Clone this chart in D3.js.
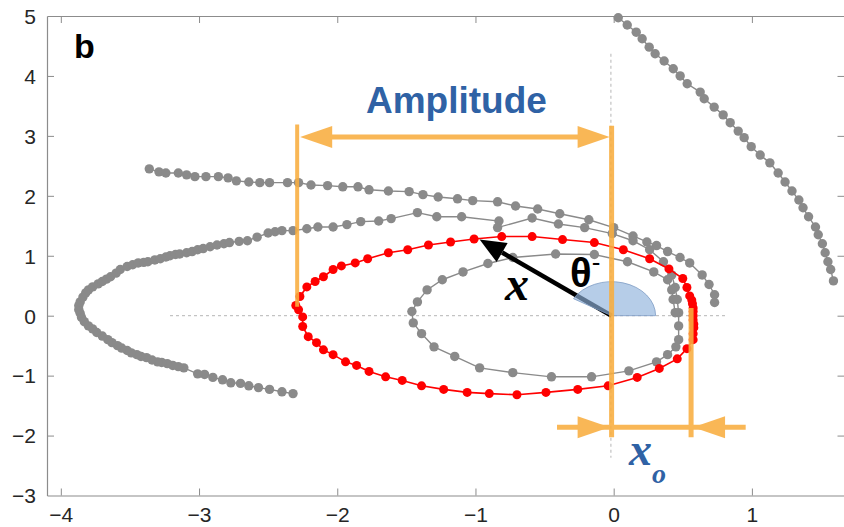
<!DOCTYPE html>
<html><head><meta charset="utf-8">
<script src="https://cdn.jsdelivr.net/npm/d3@7"></script>
<style>html,body{margin:0;padding:0;background:#fff;}svg{display:block;}</style>
</head><body>
<svg id="chart" width="844" height="527"></svg>
<script>
// ---- data ----
const xTicks = [-4, -3, -2, -1, 0, 1];
const yTicks = [-3, -2, -1, 0, 1, 2, 3, 4, 5];

// gray trajectory leaving the top of the frame (upper right)
const topRightArc = [
 [0.033,4.97],[0.098,4.85],[0.163,4.73],[0.206,4.62],[0.257,4.48],[0.300,4.37],[0.365,4.25],
 [0.431,4.12],[0.481,4.00],[0.532,3.87],[0.626,3.73],[0.655,3.62],[0.727,3.48],[0.792,3.35],
 [0.843,3.22],[0.901,3.08],[0.944,2.97],[0.995,2.82],[1.06,2.68],[1.13,2.55],[1.19,2.38],
 [1.24,2.23],[1.29,2.08],[1.34,1.93],[1.37,1.80],[1.41,1.65],[1.46,1.48],[1.48,1.35],
 [1.51,1.20],[1.53,1.05],[1.55,0.90],[1.57,0.77],[1.59,0.58]
];

// gray outer upper arc
const outerArc = [
 [-3.36,2.45],[-3.29,2.40],[-3.24,2.38],[-3.15,2.38],[-3.09,2.35],[-3.03,2.32],[-2.95,2.32],
 [-2.86,2.32],[-2.79,2.30],[-2.73,2.25],[-2.64,2.23],[-2.56,2.22],[-2.49,2.22],[-2.36,2.22],
 [-2.28,2.22],[-2.19,2.18],[-2.07,2.17],[-1.96,2.15],[-1.85,2.15],[-1.77,2.10],[-1.63,2.08],
 [-1.48,2.07],[-1.38,2.02],[-1.27,1.98],[-1.13,1.95],[-1.02,1.92],[-0.84,1.90],[-0.71,1.83],
 [-0.55,1.78],[-0.39,1.70],[-0.18,1.60],[0.00,1.47],[0.14,1.33],[0.24,1.23],[0.31,1.17],
 [0.39,1.07],[0.48,0.97],[0.55,0.88],[0.64,0.68],[0.69,0.52],[0.73,0.35],[0.73,0.22]
];

// gray spiral: lower-left arm, left nose, middle arc, inner loop
const spiralTrack = [
 [-2.32,-1.30],[-2.40,-1.27],[-2.49,-1.23],[-2.57,-1.20],[-2.64,-1.17],[-2.70,-1.13],[-2.77,-1.12],
 [-2.83,-1.07],[-2.90,-1.03],[-2.96,-0.98],[-3.01,-0.97],[-3.11,-0.87],[-3.15,-0.85],[-3.19,-0.83],
 [-3.23,-0.80],[-3.27,-0.78],[-3.30,-0.77],[-3.34,-0.74],[-3.38,-0.70],[-3.42,-0.68],[-3.45,-0.65],
 [-3.49,-0.62],[-3.52,-0.58],[-3.56,-0.54],[-3.59,-0.50],[-3.63,-0.45],[-3.66,-0.40],[-3.70,-0.34],
 [-3.74,-0.28],[-3.77,-0.22],[-3.80,-0.17],[-3.83,-0.10],[-3.85,-0.03],[-3.86,0.04],[-3.87,0.10],
 [-3.87,0.17],[-3.86,0.23],[-3.84,0.31],[-3.82,0.38],[-3.80,0.43],[-3.77,0.48],[-3.73,0.53],
 [-3.70,0.57],[-3.67,0.61],[-3.64,0.65],[-3.60,0.71],[-3.57,0.77],[-3.52,0.82],[-3.48,0.85],
 [-3.44,0.88],[-3.40,0.89],[-3.37,0.90],[-3.32,0.93],[-3.28,0.95],[-3.24,0.98],[-3.21,1.00],
 [-3.17,1.02],[-3.14,1.03],[-3.09,1.05],[-3.05,1.07],[-3.01,1.10],[-2.97,1.12],[-2.92,1.15],
 [-2.87,1.18],[-2.82,1.20],[-2.78,1.22],[-2.71,1.24],[-2.65,1.25],[-2.58,1.31],[-2.50,1.38],
 [-2.45,1.40],[-2.40,1.42],[-2.32,1.42],[-2.22,1.45],[-2.14,1.48],[-2.03,1.48],[-1.93,1.52],
 [-1.83,1.57],[-1.70,1.58],[-1.61,1.62],[-1.42,1.72],[-1.28,1.65],[-1.10,1.65],[-0.83,1.58],
 [-0.84,1.47],[-0.59,1.63],[-0.40,1.53],[-0.21,1.47],[-0.01,1.37],[0.14,1.25],[0.26,1.10],
 [0.36,0.90],[0.42,0.68],[0.445,0.47],[0.46,0.27],[0.47,0.05],[0.47,-0.17],[0.47,-0.40],
 [0.45,-0.52],[0.39,-0.65],[0.31,-0.77],[0.11,-0.92],[-0.16,-1.02],[-0.45,-1.02],[-0.73,-0.95],
 [-0.97,-0.87],[-1.15,-0.68],[-1.30,-0.52],[-1.39,-0.30],[-1.45,-0.12],[-1.46,0.07],[-1.42,0.23],
 [-1.35,0.43],[-1.24,0.60],[-1.09,0.73],[-0.91,0.87],[-0.73,0.97],[-0.42,1.03],[-0.14,1.02],
 [0.10,0.90],[0.29,0.73],[0.39,0.60],[0.42,0.43],[0.43,0.27],[0.445,0.05]
];

// red limit-cycle orbit
const redOrbit = [
 [-2.30,0.17],[-2.27,0.32],[-2.22,0.48],[-2.16,0.57],[-2.10,0.65],[-2.03,0.77],[-1.97,0.83],
 [-1.87,0.88],[-1.78,0.95],[-1.63,1.05],[-1.49,1.10],[-1.34,1.18],[-1.18,1.23],[-1.01,1.28],
 [-0.81,1.32],[-0.59,1.32],[-0.37,1.27],[-0.14,1.22],[0.07,1.10],[0.26,0.95],[0.40,0.78],
 [0.50,0.62],[0.53,0.47],[0.55,0.33],[0.565,0.26],[0.57,0.20],[0.575,0.13],[0.575,0.07],
 [0.575,0.00],[0.575,-0.07],[0.58,-0.14],[0.58,-0.20],[0.575,-0.30],[0.575,-0.40],[0.53,-0.55],
 [0.46,-0.72],[0.33,-0.88],[0.17,-1.03],[-0.04,-1.17],[-0.26,-1.23],[-0.49,-1.28],[-0.70,-1.32],
 [-0.90,-1.30],[-1.06,-1.28],[-1.23,-1.23],[-1.39,-1.17],[-1.53,-1.08],[-1.65,-1.02],[-1.77,-0.93],
 [-1.86,-0.83],[-1.94,-0.77],[-2.03,-0.65],[-2.10,-0.57],[-2.15,-0.45],[-2.21,-0.35],[-2.25,-0.18],
 [-2.25,-0.02],[-2.28,0.10]
];

// annotation values (data units)
const ampLeft = -2.29, ampRight = -0.015, xoRight = 0.56;
const ampY = 2.98, xoY = -1.86;
const vecTip = [-0.97, 1.27];
const thetaAngle = 150; // degrees

// ---- chart ----
const svg = d3.select("#chart");
const x = d3.scaleLinear().domain([-4.1, 1.67]).range([47, 844.5]);
const y = d3.scaleLinear().domain([-3, 5]).range([495.5, 16]);

const GRAY = "#8a8a8a", RED = "#ff0000", ORANGE = "#f9ae3f", BLUE = "#2f62a5";

// axes (box with inward ticks)
const axisColor = "#8c8c8c";
const gB = svg.append("g").attr("transform", `translate(0,${y(-3)})`)
  .call(d3.axisBottom(x).tickValues(xTicks).tickSizeInner(-7).tickSizeOuter(0).tickPadding(12).tickFormat(d3.format("d")));
const gT = svg.append("g").attr("transform", `translate(0,${y(5)})`)
  .call(d3.axisTop(x).tickValues(xTicks).tickSizeInner(-7).tickSizeOuter(0).tickFormat(""));
const gL = svg.append("g").attr("transform", `translate(${x(-4.1)},0)`)
  .call(d3.axisLeft(y).tickValues(yTicks).tickSizeInner(-7).tickSizeOuter(0).tickPadding(11).tickFormat(d3.format("d")));
const gR = svg.append("g").attr("transform", `translate(${x(1.67)},0)`)
  .call(d3.axisRight(y).tickValues(yTicks).tickSizeInner(-7).tickSizeOuter(0).tickFormat(""));
[gB, gT, gL, gR].forEach(g => {
  g.selectAll("path.domain").attr("stroke", axisColor).attr("stroke-width", 1.2);
  g.selectAll(".tick line").attr("stroke", axisColor).attr("stroke-width", 1);
  g.selectAll(".tick text").attr("fill", "#262626").attr("font-size", 21)
    .attr("font-family", "'Liberation Sans', Arial, sans-serif");
});
gB.selectAll(".tick text").attr("dy", "0.71em");
gL.selectAll(".tick text").attr("dy", "0.35em");
gL.selectAll(".tick").filter(d => d === 5 || d === -3).select("line").remove();
gR.selectAll(".tick").filter(d => d === 5 || d === -3).select("line").remove();

// dotted reference lines
svg.append("line").attr("x1", x(-3.21)).attr("x2", x(0.82)).attr("y1", y(0)).attr("y2", y(0))
  .attr("stroke", "#b5b5b5").attr("stroke-width", 1).attr("stroke-dasharray", "3,3");
svg.append("line").attr("x1", x(-0.02)).attr("x2", x(-0.02)).attr("y1", y(4.37)).attr("y2", y(-2.37))
  .attr("stroke", "#b5b5b5").attr("stroke-width", 1).attr("stroke-dasharray", "3,3");

const line = d3.line().x(d => x(d[0])).y(d => y(d[1]));

function drawTrack(data, color, lw, r) {
  svg.append("path").datum(data).attr("d", line).attr("fill", "none")
    .attr("stroke", color).attr("stroke-width", lw);
  svg.append("g").selectAll("circle").data(data).join("circle")
    .attr("cx", d => x(d[0])).attr("cy", d => y(d[1])).attr("r", r).attr("fill", color);
}
drawTrack(topRightArc, GRAY, 1.4, 4.7);
drawTrack(outerArc, GRAY, 1.4, 4.7);
drawTrack(spiralTrack, GRAY, 1.4, 4.7);
drawTrack(redOrbit, RED, 1.6, 4.5);

// black vector arrow
const ox = x(-0.015), oy = y(0);
const tx = x(vecTip[0]), ty = y(vecTip[1]);
const ang = Math.atan2(ty - oy, tx - ox);
const headLen = 26, headHalf = 11;
const bx = tx - headLen * Math.cos(ang), by = ty - headLen * Math.sin(ang);
svg.append("line").attr("x1", ox).attr("y1", oy).attr("x2", bx).attr("y2", by)
  .attr("stroke", "#000").attr("stroke-width", 4.5);
svg.append("path").attr("d", `M${tx},${ty}L${bx - headHalf * Math.sin(ang)},${by + headHalf * Math.cos(ang)}L${bx + headHalf * Math.sin(ang)},${by - headHalf * Math.cos(ang)}Z`)
  .attr("fill", "#000");

// angle wedge (elliptical sector)
const rx = 44, ry = 34;
const a1 = thetaAngle * Math.PI / 180;
svg.append("path")
  .attr("d", `M${ox},${oy}L${ox + rx},${oy}A${rx},${ry} 0 0 0 ${ox + rx * Math.cos(a1)},${oy - ry * Math.sin(a1)}Z`)
  .attr("fill", "#8fb2dc").attr("fill-opacity", 0.65).attr("stroke", "#7d9cc4").attr("stroke-width", 0.8);

// orange annotation
const og = svg.append("g").attr("opacity", 0.88);
function vline(xv, y1, y2, w) {
  og.append("line").attr("x1", x(xv)).attr("x2", x(xv)).attr("y1", y(y1)).attr("y2", y(y2))
    .attr("stroke", ORANGE).attr("stroke-width", w);
}
function head(tipX, tipY, dir) {
  const L = 32, H = 11;
  og.append("path").attr("d", `M${tipX},${tipY}L${tipX - dir * L},${tipY - H}L${tipX - dir * L},${tipY + H}Z`)
    .attr("fill", ORANGE);
}
vline(ampLeft, 3.19, 0.15, 4);
vline(ampRight, 3.17, -2.03, 5);
vline(xoRight, 0.13, -2.03, 5);
og.append("line").attr("x1", x(ampLeft) + 28).attr("x2", x(ampRight) - 28).attr("y1", y(ampY)).attr("y2", y(ampY))
  .attr("stroke", ORANGE).attr("stroke-width", 5);
head(x(ampLeft) + 3, y(ampY), -1);
head(x(ampRight) - 2, y(ampY), 1);
og.append("line").attr("x1", x(-0.41)).attr("x2", x(0.955)).attr("y1", y(xoY)).attr("y2", y(xoY))
  .attr("stroke", ORANGE).attr("stroke-width", 5);
head(x(ampRight) - 2, y(xoY), 1);
head(x(xoRight) + 2, y(xoY), -1);

// texts
svg.append("text").attr("x", 74).attr("y", 58).text("b")
  .attr("font-family", "'Liberation Sans', Arial, sans-serif").attr("font-weight", "bold").attr("font-size", 34);
svg.append("text").attr("x", (x(ampLeft) + x(ampRight)) / 2 + 2).attr("y", 113).attr("text-anchor", "middle")
  .text("Amplitude").attr("fill", BLUE)
  .attr("font-family", "'Liberation Sans', Arial, sans-serif").attr("font-weight", "bold").attr("font-size", 37);
const th = svg.append("text").attr("x", 570).attr("y", 287)
  .attr("font-family", "'Liberation Sans', Arial, sans-serif").attr("font-weight", "bold").attr("font-size", 40).attr("fill", "#000");
th.append("tspan").text("θ");
th.append("tspan").text("-").attr("font-size", 26).attr("dy", -16).attr("font-weight", "normal");
svg.append("text").attr("x", 505).attr("y", 300).text("x")
  .attr("font-family", "'Liberation Serif', 'Times New Roman', serif").attr("font-style", "italic").attr("font-weight", "bold").attr("font-size", 48);
const xo = svg.append("text").attr("x", 629).attr("y", 465).attr("fill", BLUE)
  .attr("font-family", "'Liberation Serif', 'Times New Roman', serif").attr("font-style", "italic").attr("font-weight", "bold").attr("font-size", 46);
xo.append("tspan").text("x");
xo.append("tspan").text("o").attr("font-size", 28).attr("dy", 18);
</script>
</body></html>
